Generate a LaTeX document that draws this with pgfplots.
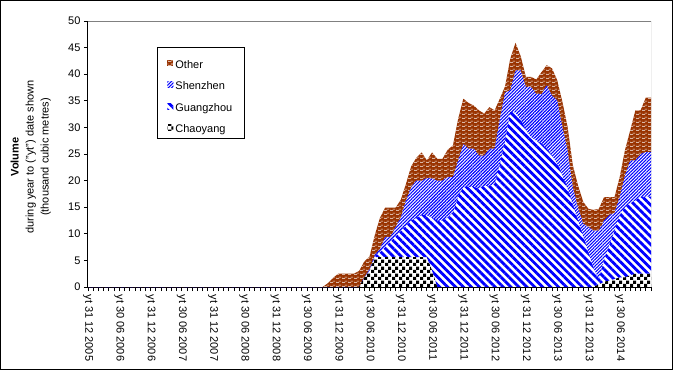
\documentclass[border=0pt]{standalone}
\usepackage{fontspec}
\setmainfont{Liberation Sans}
\usepackage{pgfplots}
\pgfplotsset{compat=1.18}
\usepackage{pgfplotstable}
\usetikzlibrary{patterns,patterns.meta}

\definecolor{otherbrown}{RGB}{153,51,0}
\definecolor{framegray}{RGB}{128,128,128}

\tikzdeclarepattern{
  name=smallchecker,
  type=uncolored,
  bottom left={(0pt,0pt)},
  top right={(7pt,7pt)},
  tile size={(7pt,7pt)},
  code={
    \tikzset{x=1pt,y=1pt}
    \path[fill] (0,0) rectangle (3.5,3.5);
    \path[fill] (3.5,3.5) rectangle (7,7);
  }
}
\tikzdeclarepattern{
  name=mortar,
  type=uncolored,
  bottom left={(0pt,0pt)},
  top right={(6pt,4pt)},
  tile size={(6pt,4pt)},
  code={
    \tikzset{x=1pt,y=1pt}
    \path[fill] (0,0) rectangle (3.5,0.7);
    \path[fill] (3,2) rectangle (6,2.7);
    \path[fill] (0,2) rectangle (0.5,2.7);
  }
}

\pgfplotstableread{
k ch gz sz ot
0 0 0 0 0
1 0 0 0 0
2 0 0 0 0
3 0 0 0 0
4 0 0 0 0
5 0 0 0 0
6 0 0 0 0
7 0 0 0 0
8 0 0 0 0
9 0 0 0 0
10 0 0 0 0
11 0 0 0 0
12 0 0 0 0
13 0 0 0 0
14 0 0 0 0
15 0 0 0 0
16 0 0 0 0
17 0 0 0 0
18 0 0 0 0
19 0 0 0 0
20 0 0 0 0
21 0 0 0 0
22 0 0 0 0
23 0 0 0 0
24 0 0 0 0
25 0 0 0 0
26 0 0 0 0
27 0 0 0 0
28 0 0 0 0
29 0 0 0 0
30 0 0 0 0
31 0 0 0 0
32 0 0 0 0
33 0 0 0 0
34 0 0 0 0
35 0 0 0 0
36 0 0 0 0
37 0 0 0 0
38 0 0 0 0
39 0 0 0 0
40 0 0 0 0
41 0 0 0 0
42 0 0 0 0
43 0 0 0 0
44 0 0 0 0
45 0 0 0 0
46 0 0 0 0.7
47 0 0 0 1.7
48 0 0 0 2.5
49 0 0 0 2.5
50 0 0 0 2.5
51 0 0 0 2.5
52 0 0 0 3.0
53 1.8 0 0 3.0
54 3.1 0 0.2 2.4
55 5.6 0.2 0.2 3.7
56 5.6 0.9 0.7 5.8
57 5.6 1.9 1.9 5.5
58 5.6 2.9 0.9 5.5
59 5.6 3.9 1.8 3.6
60 5.6 4.9 2.6 3.3
61 5.6 5.9 4.8 3.1
62 5.6 6.9 6.3 3.9
63 5.6 7.4 7.0 4.3
64 5.6 7.9 6.5 5.3
65 5.6 7.9 7.0 3.3
66 3.1 9.9 7.4 4.9
67 0 12.5 7.5 4.1
68 0 12.5 7.5 4.1
69 0 13.0 7.7 5.1
70 0 14.0 6.7 5.9
71 0 17.0 6.8 7.8
72 0 18.8 8.1 8.5
73 0 18.8 7.2 8.6
74 0 18.8 7.2 8.1
75 0 18.5 6.2 8.5
76 0 19.0 5.7 7.9
77 0 19.0 7.0 7.8
78 0 19.4 6.6 7.2
79 0 23.0 8.6 3.8
80 0 27.5 9.1 1.1
81 0 32.9 4.1 5.9
82 0 32.8 7.9 5.2
83 0 31.5 9.2 2.7
84 0 29.5 8.1 1.9
85 0 28.2 9.4 1.9
86 0 27.5 8.8 2.7
87 0 27.0 9.3 4.1
88 0 26.0 11.9 3.8
89 0 24.7 11.3 5.1
90 0 23.2 11.9 3.8
91 0 21.0 9.1 4.7
92 0 18.5 7.2 4.4
93 0 15.5 3.3 4.1
94 0 12.5 2.5 4.1
95 0 9.5 2.4 4.1
96 0 6.5 4.8 3.4
97 0 3.5 7.1 3.9
98 0.5 1.0 9.1 4.1
99 1.0 4.0 7.5 4.4
100 1.2 6.8 5.5 3.4
101 1.5 9.0 3.5 2.9
102 1.8 11.7 3.5 3.7
103 1.8 13.2 6.0 4.7
104 2.2 13.5 8.1 5.6
105 2.5 13.8 7.5 9.4
106 2.5 14.4 8.1 8.2
107 2.5 14.5 8.4 10.2
108 2.5 14.5 8.4 10.2
}\datatable

\begin{document}
\begin{tikzpicture}
\begin{axis}[
  name=ax,
  scale only axis,
  width=563pt, height=266pt,
  xmin=0, xmax=108, ymin=0, ymax=50,
  axis x line*=bottom, axis y line*=left,
  axis line style={-, line width=1pt, black},
  stack plots=y,
  tick align=outside,
  major tick length=4pt, minor tick length=4pt,
  every tick/.style={black, line width=0.8pt},
  xtick={0,6,...,102},
  minor xtick={0,1,...,108},
  xticklabels={yt 31 12 2005, yt 30 06 2006, yt 31 12 2006, yt 30 06 2007, yt 31 12 2007, yt 30 06 2008, yt 31 12 2008, yt 30 06 2009, yt 31 12 2009, yt 30 06 2010, yt 31 12 2010, yt 30 06 2011, yt 31 12 2011, yt 30 06 2012, yt 31 12 2012, yt 30 06 2013, yt 31 12 2013, yt 30 06 2014},
  xticklabel style={rotate=-90, anchor=west, font=\fontsize{11}{13}\selectfont},
  ytick={0,5,...,50},
  yticklabel style={font=\fontsize{11}{13}\selectfont},
  /pgf/number format/assume math mode=true,
  every axis y label/.style={at={(axis description cs:-0.0657,0.489)}, anchor=south, rotate=90, align=center, inner sep=0pt, font=\fontsize{11}{15}\selectfont},
  ylabel={\textbf{Volume}\\during year to ("yt") date shown\\(thousand cubic metres)},
  legend style={at={(axis description cs:0.1226,0.902)}, anchor=north west, draw=black, line width=0.8pt, fill=white,
    font=\fontsize{11}{13}\selectfont, row sep=1.3pt, inner xsep=10pt, inner ysep=3.5pt,
    nodes={inner xsep=2pt, inner ysep=0pt, text height=17.5pt, text depth=2.5pt}},
  legend cell align=left,
  legend image code/.code={\path[#1] (1pt,-5.5pt) rectangle (7pt,0.5pt);},
  reverse legend,
]
\addplot[draw=none, fill=white, pattern=smallchecker, pattern color=black] table[x=k, y=ch] {\datatable} \closedcycle;
\addlegendentry{Chaoyang}
\addplot[draw=none, pattern={Lines[angle=-45, distance=5.6pt, line width=2.8pt]}, pattern color=blue] table[x=k, y=gz] {\datatable} \closedcycle;
\addlegendentry{Guangzhou}
\addplot[draw=none, pattern={Lines[angle=45, distance=2.3pt, line width=1.1pt]}, pattern color=blue] table[x=k, y=sz] {\datatable} \closedcycle;
\addlegendentry{Shenzhen}
\addplot[draw=none, fill=otherbrown, postaction={pattern=mortar, pattern color=white}] table[x=k, y=ot] {\datatable} \closedcycle;
\addlegendentry{Other}
\draw[framegray, line width=1pt] (rel axis cs:0,1) -- (rel axis cs:1,1) -- (rel axis cs:1,0);
\end{axis}
\draw[line width=1pt] ([xshift=-87.5pt,yshift=-82.5pt]ax.south west) rectangle ([xshift=21.5pt,yshift=20.5pt]ax.north east);
\end{tikzpicture}
\end{document}
